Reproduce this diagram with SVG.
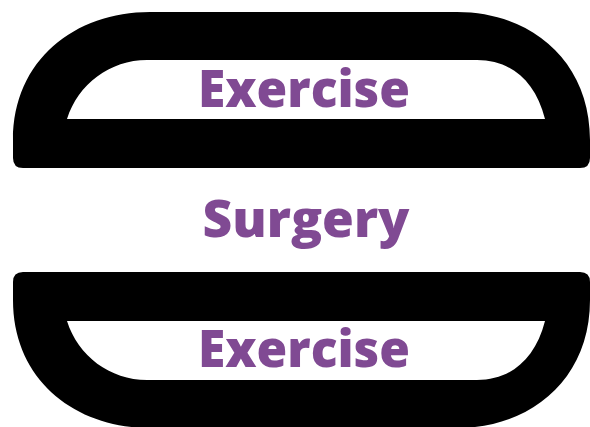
<svg xmlns="http://www.w3.org/2000/svg" width="590" height="427" viewBox="0 0 590 427">
  <style>
    .bun { fill: #000000; fill-rule: evenodd; }
    .lbl { font-family: "Open Sans", "Liberation Sans", sans-serif; font-weight: 800; font-size: 52px; fill: #804A93; text-anchor: middle; }
  </style>
  <defs>
    <path id="bunShape" d="M150,12 H457 C530,12 590,60 590,140 V158 Q590,168 580,168 H23 Q13,168 13,158 V140 C13,60 75,12 150,12 Z M147,60 H477 C510,60 535,80 545,119 H67 C78,84 110,60 147,60 Z"/>
  </defs>
  <rect width="590" height="427" fill="#ffffff"/>
  <g id="top-bun">
    <use href="#bunShape" class="bun"/>
    <text class="lbl" x="304" y="107" textLength="212" lengthAdjust="spacingAndGlyphs">Exercise</text>
  </g>
  <g id="middle">
    <text class="lbl" x="306" y="237" textLength="207" lengthAdjust="spacingAndGlyphs">Surgery</text>
  </g>
  <g id="bottom-bun">
    <use href="#bunShape" class="bun" transform="matrix(1,0,0,-1,0,440)"/>
    <text class="lbl" x="304" y="367" textLength="212" lengthAdjust="spacingAndGlyphs">Exercise</text>
  </g>
  <g id="connectors"></g>
</svg>
